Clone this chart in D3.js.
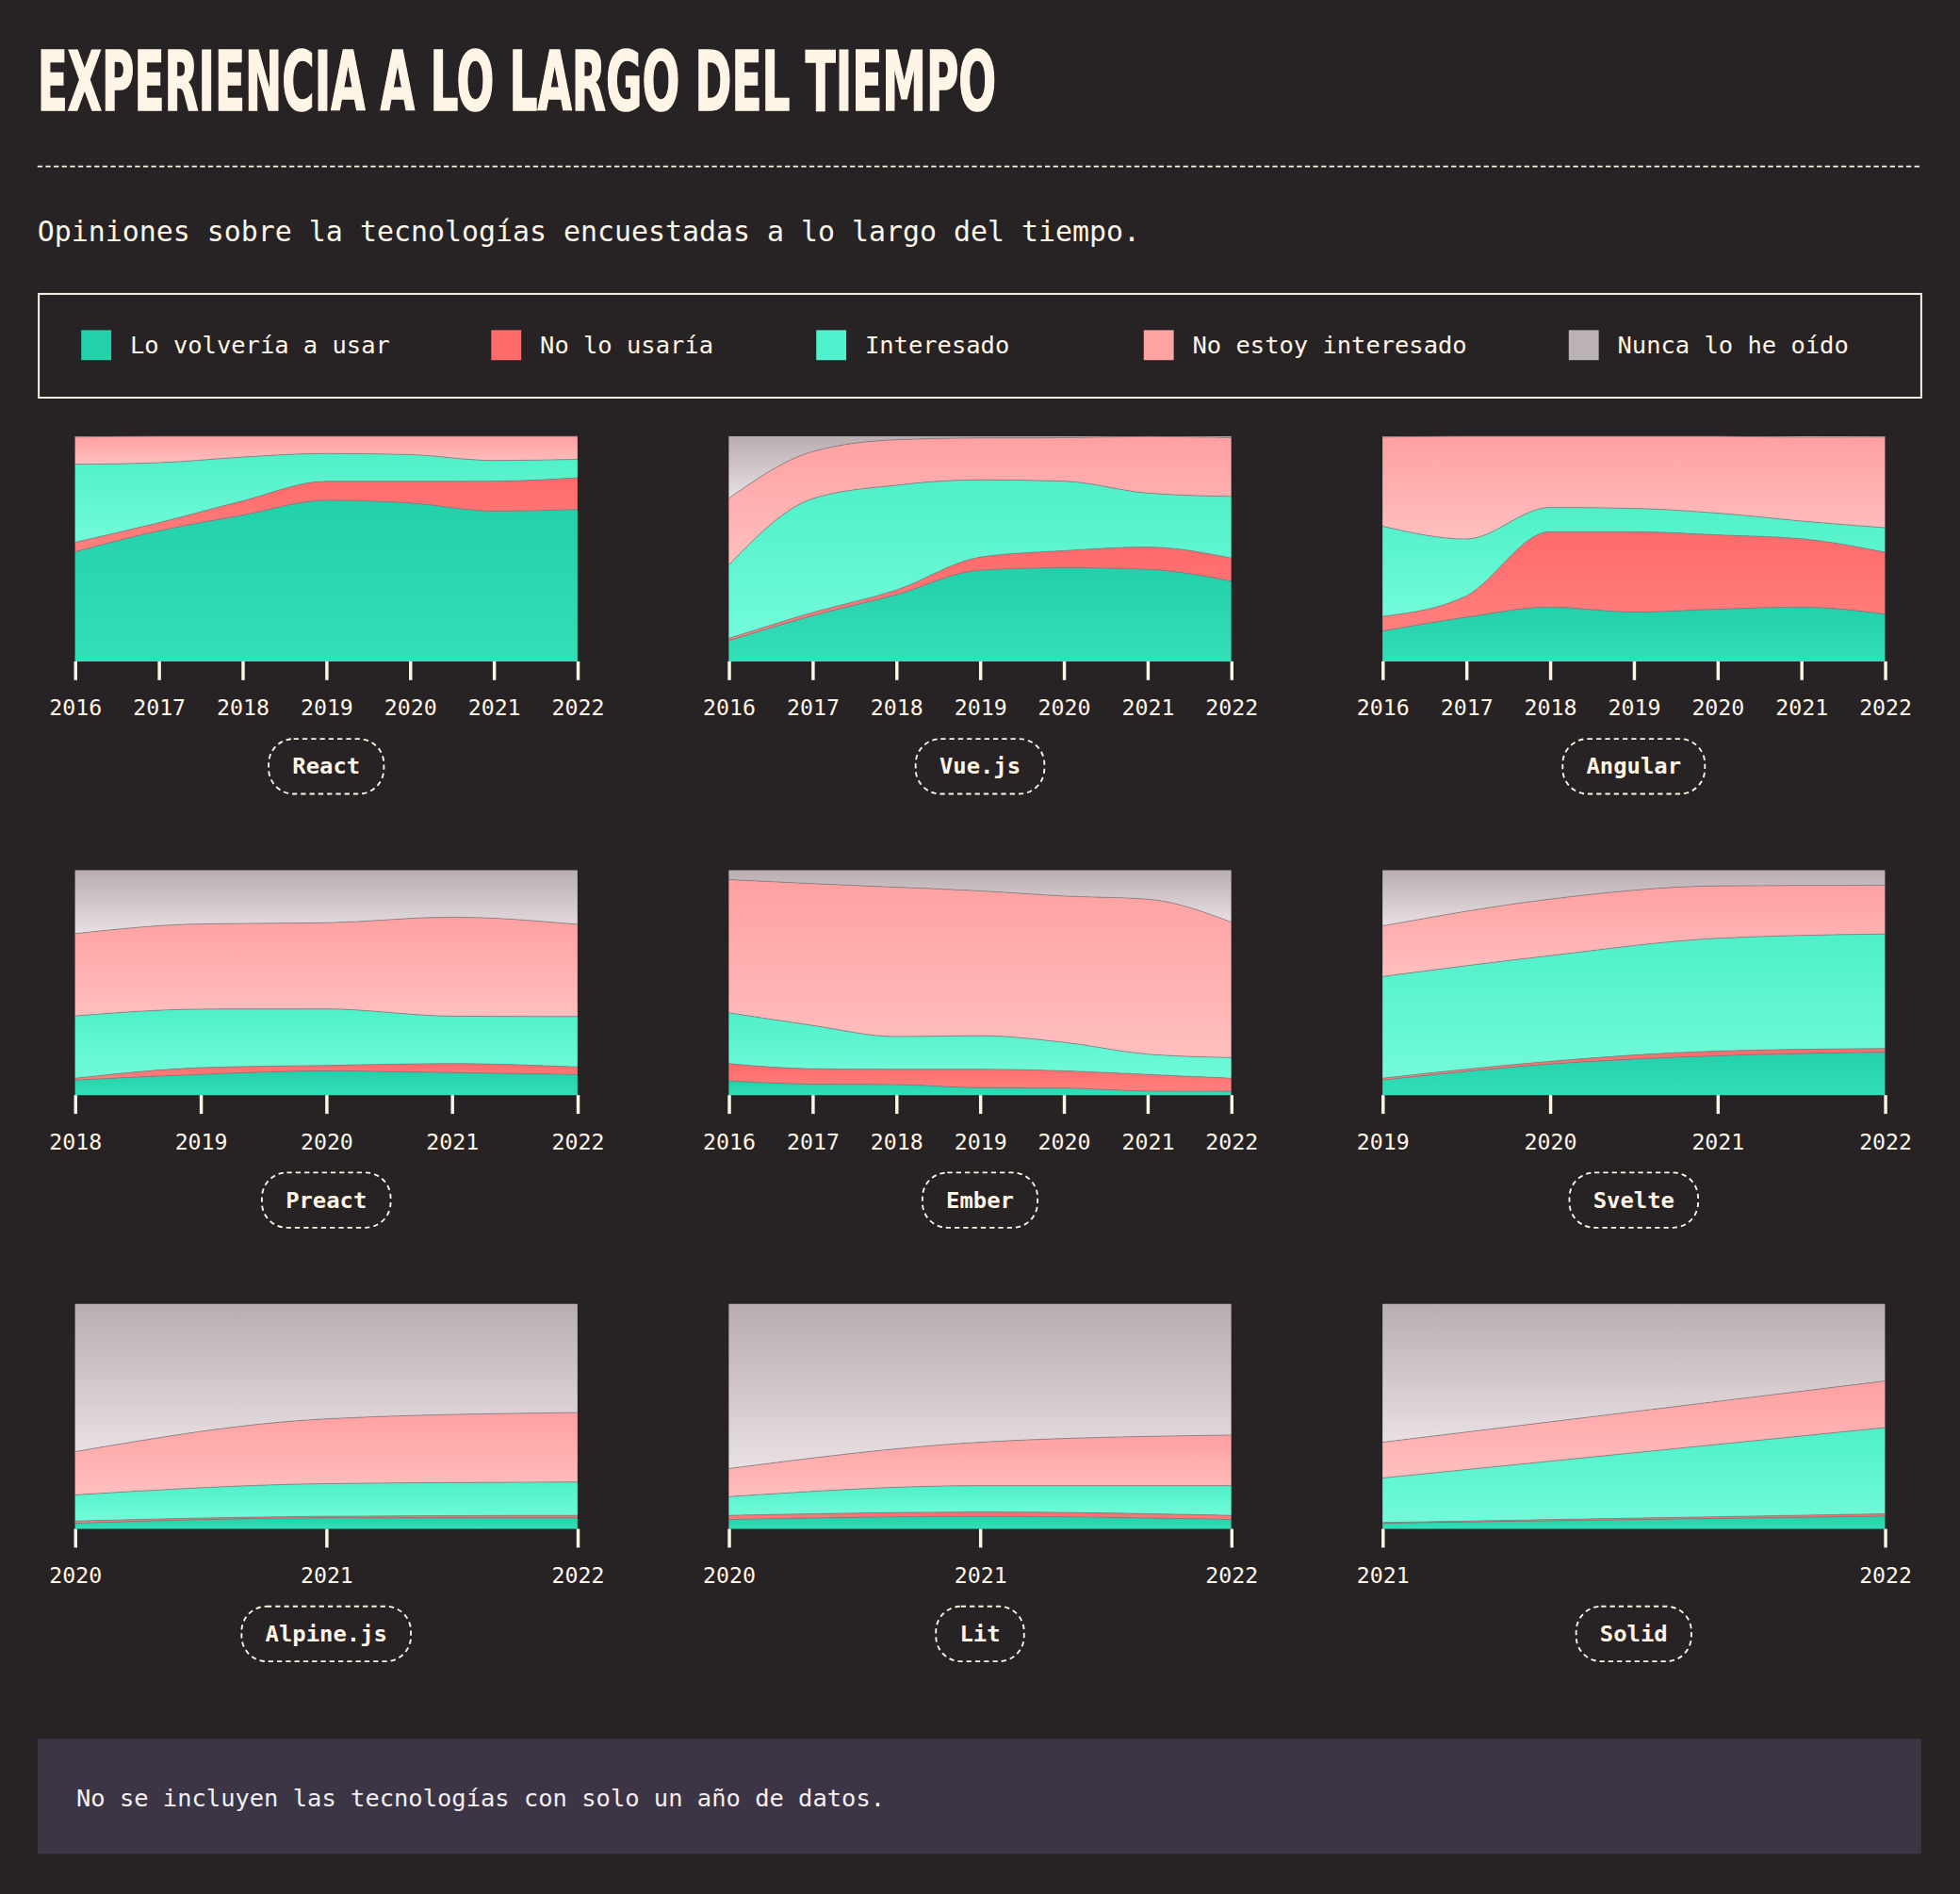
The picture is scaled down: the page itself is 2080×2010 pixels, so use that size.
<!DOCTYPE html>
<html>
<head>
<meta charset="utf-8">
<script src="https://cdn.jsdelivr.net/npm/d3@7"></script>
<style>
  html, body { margin: 0; padding: 0; background: #272325; }
  svg { display: block; }
</style>
</head>
<body>
<svg id="chart" width="2080" height="2010" viewBox="0 0 1568 1515"></svg>
<script>
// series, bottom to top of every stack
const SERIES = ['Lo volvería a usar', 'No lo usaría', 'Interesado', 'No estoy interesado', 'Nunca lo he oído'];
const SWATCH = ['#23d1ab', '#ff6b6b', '#4ff2cc', '#ffa3a3', '#bbb2b6'];
const GRAD_TOP = ['#22d0a9', '#ff6a6c', '#4ef0c8', '#ffa0a1', '#b8adb0'];
const GRAD_BOTTOM = ['#33dfb7', '#ff807e', '#72fbd9', '#ffbfbf', '#e9e0e4'];

const TECHS = ['React', 'Vue.js', 'Angular', 'Preact', 'Ember', 'Svelte', 'Alpine.js', 'Lit', 'Solid'];

// percentages per series (rows) and year (columns)
const reactYears = [2016, 2017, 2018, 2019, 2020, 2021, 2022];
const reactValues = [
  [48.7, 58.0, 65.0, 71.6, 70.4, 66.8, 67.5],
  [4.2, 3.6, 6.3, 8.4, 9.6, 13.3, 14.1],
  [34.7, 26.7, 19.5, 12.4, 11.9, 9.2, 8.2],
  [12.1, 11.7, 9.2, 7.6, 8.1, 10.7, 10.2],
  [0.3, 0, 0, 0, 0, 0, 0]
];
const vueYears = [2016, 2017, 2018, 2019, 2020, 2021, 2022];
const vueValues = [
  [9.2, 20.3, 29.6, 40.5, 41.6, 40.9, 35.7],
  [1.0, 1.4, 2.1, 5.8, 7.6, 9.9, 10.2],
  [32.6, 50.6, 46.6, 34.4, 30.9, 24.0, 27.4],
  [29.7, 20.9, 20.2, 18.6, 19.3, 25.1, 26.1],
  [27.5, 6.8, 1.5, 0.7, 0.6, 0.1, 0.6]
];
const angularYears = [2016, 2017, 2018, 2019, 2020, 2021, 2022];
const angularValues = [
  [13.5, 19.6, 24.1, 21.9, 23.2, 24.1, 21.0],
  [6.5, 9.5, 33.5, 35.7, 33.0, 30.4, 27.5],
  [40.1, 25.3, 10.8, 10.4, 9.7, 7.9, 10.9],
  [39.6, 45.6, 31.6, 32.0, 34.1, 37.2, 40.3],
  [0.3, 0, 0, 0, 0, 0.4, 0.3]
];
const preactYears = [2018, 2019, 2020, 2021, 2022];
const preactValues = [
  [6.7, 9.2, 10.8, 10.0, 9.2],
  [0.8, 3.0, 2.4, 4.0, 3.3],
  [27.7, 26.0, 25.1, 21.1, 22.4],
  [36.6, 37.9, 38.3, 44.0, 41.0],
  [28.2, 23.9, 23.4, 20.9, 24.1]
];
const emberYears = [2016, 2017, 2018, 2019, 2020, 2021, 2022];
const emberValues = [
  [6.4, 4.9, 4.7, 3.3, 3.1, 1.8, 1.7],
  [7.6, 6.8, 6.8, 8.2, 7.7, 7.4, 5.8],
  [22.6, 19.3, 14.5, 14.9, 12.7, 9.0, 9.2],
  [59.2, 63.0, 66.4, 64.4, 65.0, 68.9, 60.2],
  [4.2, 6.0, 7.6, 9.2, 11.5, 12.9, 23.1]
];
const svelteYears = [2019, 2020, 2021, 2022];
const svelteValues = [
  [6.7, 13.8, 17.5, 19.1],
  [0.8, 1.2, 2.1, 1.6],
  [45.2, 47.0, 50.1, 50.9],
  [22.5, 25.1, 23.3, 21.7],
  [24.8, 12.9, 7.0, 6.7]
];
const alpineYears = [2020, 2021, 2022];
const alpineValues = [
  [2.5, 4.9, 4.9],
  [1.0, 0.7, 1.1],
  [11.6, 14.5, 14.8],
  [19.2, 28.8, 30.9],
  [65.7, 51.1, 48.3]
];
const litYears = [2020, 2021, 2022];
const litValues = [
  [4.2, 5.6, 4.2],
  [1.8, 1.9, 1.8],
  [8.3, 11.7, 13.2],
  [12.5, 19.3, 22.5],
  [73.2, 61.5, 58.3]
];
const solidYears = [2021, 2022];
const solidValues = [
  [2.5, 5.7],
  [0.3, 1.0],
  [19.8, 38.3],
  [15.9, 20.7],
  [61.5, 34.3]
];

const YEARS = [reactYears, vueYears, angularYears, preactYears, emberYears, svelteYears, alpineYears, litYears, solidYears];
const VALUES = [reactValues, vueValues, angularValues, preactValues, emberValues, svelteValues, alpineValues, litValues, solidValues];

const TITLE = 'EXPERIENCIA A LO LARGO DEL TIEMPO';
const SUBTITLE = 'Opiniones sobre la tecnologías encuestadas a lo largo del tiempo.';
const NOTE = 'No se incluyen las tecnologías con solo un año de datos.';

const cream = '#fff5e6';
const mono = '"DejaVu Sans Mono", "Liberation Mono", monospace';

const svg = d3.select('#chart');

// gradients
const defs = svg.append('defs');
SERIES.forEach((s, i) => {
    const g = defs.append('linearGradient')
        .attr('id', `grad${i}`)
        .attr('x1', 0).attr('y1', 0).attr('x2', 0).attr('y2', 1);
    g.append('stop').attr('offset', '0%').attr('stop-color', GRAD_TOP[i]);
    g.append('stop').attr('offset', '100%').attr('stop-color', GRAD_BOTTOM[i]);
});

// header
svg.append('text')
    .attr('x', 30)
    .attr('y', 88)
    .attr('textLength', 767)
    .attr('lengthAdjust', 'spacingAndGlyphs')
    .style('font-family', '"Liberation Sans Narrow", "DejaVu Sans Condensed", "DejaVu Sans", sans-serif')
    .style('font-weight', 700)
    .style('font-size', '66px')
    .attr('fill', cream)
    .attr('stroke', cream)
    .attr('stroke-width', 1.2)
    .text(TITLE);

svg.append('line')
    .attr('x1', 30).attr('x2', 1538)
    .attr('y1', 133).attr('y2', 133)
    .attr('stroke', cream)
    .attr('stroke-width', 1.3)
    .attr('stroke-dasharray', '4 2.5');

svg.append('text')
    .attr('x', 30)
    .attr('y', 185)
    .attr('dominant-baseline', 'central')
    .style('font-family', mono)
    .style('font-size', '22.55px')
    .attr('fill', cream)
    .text(SUBTITLE);

// legend
svg.append('rect')
    .attr('x', 31).attr('y', 235)
    .attr('width', 1506).attr('height', 83)
    .attr('fill', 'none')
    .attr('stroke', cream)
    .attr('stroke-width', 1.5);

const legendX = [65, 393, 653, 915, 1255];
const legend = svg.selectAll('.legend-item')
    .data(SERIES)
    .join('g')
        .classed('legend-item', true)
        .attr('transform', (d, i) => `translate(${legendX[i]}, 264)`);

legend.append('rect')
    .attr('width', 24).attr('height', 24)
    .attr('fill', (d, i) => SWATCH[i]);

legend.append('text')
    .attr('x', 39)
    .attr('y', 12)
    .attr('dominant-baseline', 'central')
    .style('font-family', mono)
    .style('font-size', '19.2px')
    .attr('fill', cream)
    .text(d => d);

// small multiples
const colX = [60, 583, 1106];
const rowY = [349, 696, 1043];
const plotW = 402;
const plotH = 180;

const yScale = d3.scaleLinear().domain([0, 1]).range([plotH, 0]);
const stack = d3.stack()
    .keys(d3.range(SERIES.length))
    .value((d, k) => d.values[k])
    .offset(d3.stackOffsetExpand);

TECHS.forEach((tech, t) => {
    const years = YEARS[t];
    const values = VALUES[t];
    const rows = years.map((year, i) => ({ year, values: values.map(v => v[i]) }));
    const layers = stack(rows);

    const xScale = d3.scalePoint()
        .domain(years)
        .range([0, plotW]);

    const g = svg.append('g')
        .attr('transform', `translate(${colX[t % 3]},${rowY[Math.floor(t / 3)]})`);

    const area = d3.area()
        .x(d => xScale(d.data.year))
        .y0(d => yScale(d[0]))
        .y1(d => yScale(d[1]))
        .curve(d3.curveMonotoneX);

    const line = d3.line()
        .x(d => xScale(d.data.year))
        .y(d => yScale(d[1]))
        .curve(d3.curveMonotoneX);

    g.selectAll('.layer')
        .data(layers)
        .join('path')
            .classed('layer', true)
            .attr('d', area)
            .attr('fill', (d, i) => `url(#grad${i})`);

    g.selectAll('.edge')
        .data(layers.slice(0, SERIES.length - 1))
        .join('path')
            .classed('edge', true)
            .attr('d', line)
            .attr('fill', 'none')
            .attr('stroke', '#857c7f')
            .attr('stroke-opacity', 0.8)
            .attr('stroke-width', 0.7);

    const xAxis = d3.axisBottom(xScale)
        .tickSize(15)
        .tickPadding(16)
        .tickFormat(d3.format('d'));

    const axis = g.append('g')
        .attr('transform', `translate(0,${plotH})`)
        .call(xAxis);
    axis.select('.domain').remove();
    axis.selectAll('.tick line')
        .attr('stroke', cream)
        .attr('stroke-width', 2.6);
    axis.selectAll('.tick text')
        .attr('fill', cream)
        .style('font-family', mono)
        .style('font-size', '17.5px');

    // name pill
    const pill = g.append('g')
        .attr('transform', `translate(${plotW / 2}, 264)`);
    const label = pill.append('text')
        .attr('text-anchor', 'middle')
        .attr('dominant-baseline', 'central')
        .style('font-family', mono)
        .style('font-weight', 700)
        .style('font-size', '18px')
        .attr('fill', cream)
        .text(tech);
    const w = label.node().getComputedTextLength() + 38;
    pill.insert('rect', 'text')
        .attr('x', -w / 2).attr('y', -22)
        .attr('width', w).attr('height', 44)
        .attr('rx', 20)
        .attr('fill', 'none')
        .attr('stroke', cream)
        .attr('stroke-width', 1.4)
        .attr('stroke-dasharray', '4 3');
});

// note
svg.append('rect')
    .attr('x', 30).attr('y', 1391)
    .attr('width', 1507).attr('height', 92)
    .attr('fill', '#3b3545');

svg.append('text')
    .attr('x', 61)
    .attr('y', 1438)
    .attr('dominant-baseline', 'central')
    .style('font-family', mono)
    .style('font-size', '19.2px')
    .attr('fill', '#f6eff2')
    .text(NOTE);
</script>
</body>
</html>
